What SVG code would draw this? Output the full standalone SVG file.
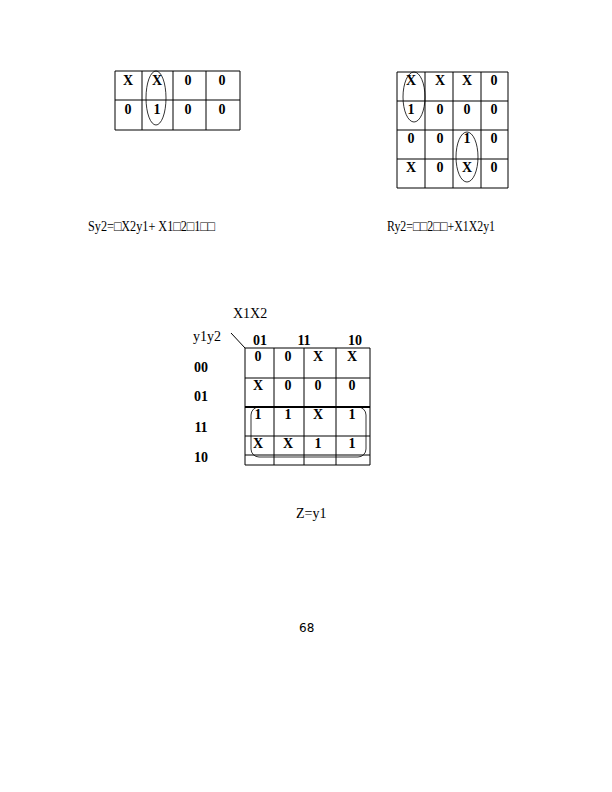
<svg xmlns="http://www.w3.org/2000/svg" width="612" height="792" viewBox="0 0 612 792">
<style>
.g{fill:none;stroke:#000;stroke-width:1}
.c{font-family:"Liberation Serif",serif;font-size:14px;font-weight:bold;text-anchor:middle}
.t{font-family:"Liberation Serif",serif;font-size:14px}
.e{fill:none;stroke:#000;stroke-width:0.8}
</style>
<rect width="612" height="792" fill="#fff"/>
<g id="kmap-sy2">
<path class="g" d="M115 71H240V130H115Z M142 71V130 M173 71V130 M206 71V130 M115 100H240"/>
<g class="c">
<text x="128" y="85">X</text><text x="157" y="85">X</text><text x="188" y="85">0</text><text x="222" y="85">0</text>
<text x="128" y="114">0</text><text x="157" y="114">1</text><text x="188" y="114">0</text><text x="222" y="114">0</text>
</g>
<ellipse class="e" cx="156" cy="98" rx="10" ry="27"/>
</g>
<g id="kmap-ry2">
<path class="g" d="M397 72H508V188H397Z M425 72V188 M453 72V188 M481 72V188 M397 101H508 M397 130H508 M397 159H508"/>
<g class="c">
<text x="411" y="85">X</text><text x="440" y="85">X</text><text x="467" y="85">X</text><text x="494" y="85">0</text>
<text x="411" y="114">1</text><text x="440" y="114">0</text><text x="467" y="114">0</text><text x="494" y="114">0</text>
<text x="411" y="143">0</text><text x="440" y="143">0</text><text x="467" y="143">1</text><text x="494" y="143">0</text>
<text x="411" y="172">X</text><text x="440" y="172">0</text><text x="467" y="172">X</text><text x="494" y="172">0</text>
</g>
<ellipse class="e" cx="414" cy="97" rx="11" ry="25"/>
<ellipse class="e" cx="467" cy="157" rx="11" ry="25"/>
</g>
<g id="eq-sy2"><text class="t" x="88" y="231" textLength="127" lengthAdjust="spacingAndGlyphs">Sy2=□X2y1+ X1□2□1□□</text></g>
<g id="eq-ry2"><text class="t" x="387" y="231" textLength="108" lengthAdjust="spacingAndGlyphs">Ry2=□□2□□+X1X2y1</text></g>
<g id="kmap-z">
<text class="t" x="233" y="318">X1X2</text>
<text class="t" x="193" y="341">y1y2</text>
<g class="c">
<text x="260" y="345">01</text><text x="304" y="345">11</text><text x="355" y="345">10</text>
<text x="201" y="372">00</text><text x="201" y="401">01</text><text x="201" y="432">11</text><text x="201" y="462">10</text>
</g>
<line class="g" x1="231" y1="333" x2="245" y2="348"/>
<path class="g" d="M245 348H370V465H245Z M274 348V465 M304 348V465 M336 348V465 M245 378H370 M245 436H370 M245 455H370"/>
<line x1="245" y1="407" x2="370" y2="407" stroke="#000" stroke-width="2"/>
<g class="c">
<text x="258" y="361">0</text><text x="288" y="361">0</text><text x="318" y="361">X</text><text x="352" y="361">X</text>
<text x="258" y="390">X</text><text x="288" y="390">0</text><text x="318" y="390">0</text><text x="352" y="390">0</text>
<text x="258" y="419">1</text><text x="288" y="419">1</text><text x="318" y="419">X</text><text x="352" y="419">1</text>
<text x="258" y="448">X</text><text x="288" y="448">X</text><text x="318" y="448">1</text><text x="352" y="448">1</text>
</g>
<rect class="e" x="251" y="407" width="115" height="50" rx="8"/>
</g>
<g id="eq-z"><text class="t" x="296" y="518">Z=y1</text></g>
<g id="page"><text x="299" y="632" style="font-family:'DejaVu Sans',sans-serif;font-size:12px">68</text></g>
</svg>
